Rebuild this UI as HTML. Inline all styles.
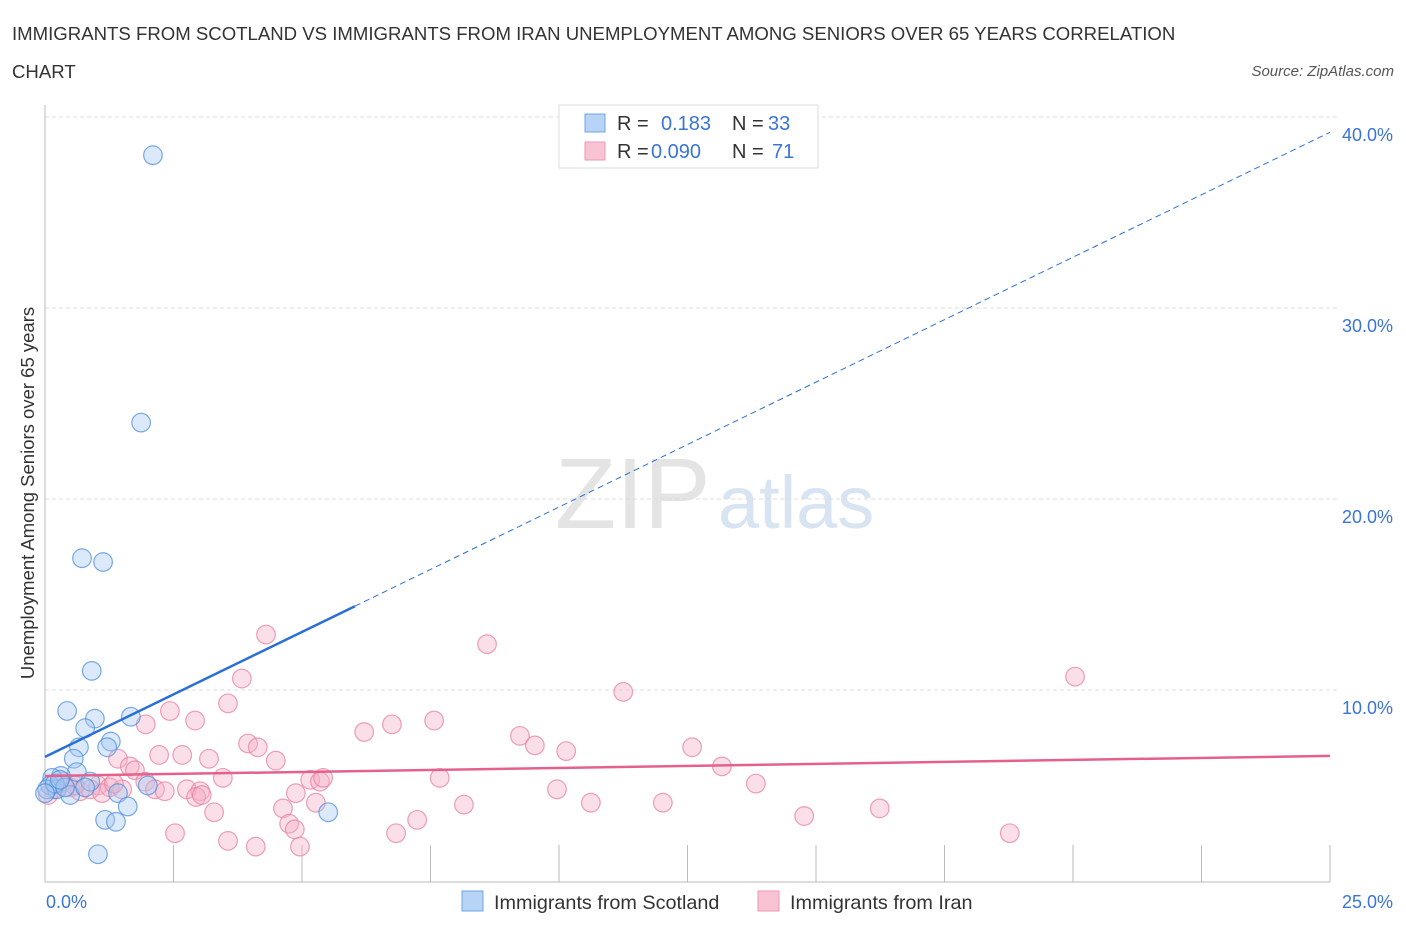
<!DOCTYPE html>
<html><head><meta charset="utf-8"><style>
body{margin:0;background:#fff;font-family:"Liberation Sans",sans-serif;}
svg text{font-family:"Liberation Sans",sans-serif;}
</style></head><body>
<svg id="chart" width="1406" height="930" xmlns="http://www.w3.org/2000/svg">
<text x="12" y="40" font-size="18.6" fill="#333">IMMIGRANTS FROM SCOTLAND VS IMMIGRANTS FROM IRAN UNEMPLOYMENT AMONG SENIORS OVER 65 YEARS CORRELATION</text>
<text x="12" y="78" font-size="18.6" fill="#333">CHART</text>
<text x="1394" y="76" font-size="15" fill="#555" text-anchor="end" font-style="italic">Source: ZipAtlas.com</text>
<text x="555" y="528" font-size="100" fill="#e4e4e4" font-family="Liberation Serif">ZIP</text>
<text x="718" y="528" font-size="74" fill="#d8e4f2">atlas</text>
<text transform="translate(34,493) rotate(-90)" font-size="18.5" fill="#333" text-anchor="middle">Unemployment Among Seniors over 65 years</text>
<g id="grid"></g><g id="marks"></g>
<g>
<rect x="559" y="105" width="259" height="63" fill="#fff" stroke="#ddd"/>
<rect x="585" y="114" width="20" height="18" fill="#b7d3f5" stroke="#6fa5e6"/>
<rect x="585" y="142" width="20" height="18" fill="#f8c4d4" stroke="#ec99b3"/>
<text x="617" y="130" font-size="20" fill="#333">R =</text><text x="661" y="130" font-size="20" fill="#3a74d6">0.183</text>
<text x="732" y="130" font-size="20" fill="#333">N =</text><text x="768" y="130" font-size="20" fill="#3a74d6">33</text>
<text x="617" y="158" font-size="20" fill="#333">R =</text><text x="651" y="158" font-size="20" fill="#3a74d6">0.090</text>
<text x="732" y="158" font-size="20" fill="#333">N =</text><text x="772" y="158" font-size="20" fill="#3a74d6">71</text>
</g>
<g>
<rect x="462" y="891" width="21" height="20" fill="#b7d3f5" stroke="#6fa5e6"/>
<text x="494" y="909" font-size="19.8" fill="#333">Immigrants from Scotland</text>
<rect x="758" y="891" width="21" height="20" fill="#f8c4d4" stroke="#ec99b3"/>
<text x="790" y="909" font-size="19.8" fill="#333">Immigrants from Iran</text>
</g>
</svg>
<script>
const xTicks=[0,2.5,5,7.5,10,12.5,15,17.5,20,22.5,25];
const yTicks=[10,20,30,40];
const yTickLabels=["10.0%","20.0%","30.0%","40.0%"];
const xEndLabels=["0.0%","25.0%"];
const scotX=[2.10,1.87,0.72,1.13,0.91,0.43,0.97,1.67,0.78,1.28,0.66,1.21,0.56,0.62,0.31,0.14,0.10,0.23,0.49,0.88,2.00,1.42,1.61,1.17,1.38,1.03,5.51,0.04,0.19,0.39,0.0,0.78,0.29];
const scotY=[38.0,24.0,16.9,16.7,11.0,8.9,8.5,8.6,8.0,7.3,7.0,7.0,6.4,5.7,5.5,5.4,5.0,4.8,4.5,5.2,5.0,4.6,3.9,3.2,3.1,1.4,3.6,4.8,5.1,4.9,4.6,4.9,5.3];
const iranX=[4.30,8.60,20.04,11.25,3.83,3.56,2.43,2.92,1.96,6.21,6.75,7.57,9.24,9.53,10.14,12.59,3.95,4.14,2.22,2.67,3.19,4.49,13.17,1.42,1.65,1.75,3.46,13.83,7.68,5.16,5.35,5.41,1.95,2.14,2.76,3.02,2.33,1.03,1.26,1.50,2.94,3.05,9.96,10.62,12.02,8.15,4.88,5.27,4.63,3.29,16.24,14.77,18.77,4.75,4.86,7.24,2.53,6.83,3.56,4.10,4.96,0.16,0.29,0.49,0.68,0.88,0.06,1.11,1.34,0.35,0.58];
const iranY=[12.9,12.4,10.7,9.9,10.6,9.3,8.9,8.4,8.2,7.8,8.2,8.4,7.6,7.1,6.8,7.0,7.2,7.0,6.6,6.6,6.4,6.3,6.0,6.4,6.0,5.8,5.4,5.1,5.4,5.3,5.2,5.4,5.2,4.8,4.8,4.7,4.7,5.0,4.9,4.8,4.4,4.5,4.8,4.1,4.1,4.0,4.6,4.1,3.8,3.6,3.8,3.4,2.5,3.0,2.7,3.2,2.5,2.5,2.1,1.8,1.8,4.8,5.1,4.9,4.7,4.8,4.5,4.6,5.1,5.2,5.0];
const scotTrend=[6.5,39.2]; const scotSolidEnd=6.03;
const iranTrend=[5.5,6.55];
const NS="http://www.w3.org/2000/svg";
const X0=45,X1=1330,Y0=881,YPX=19.1;
const sx=v=>X0+v/25*(X1-X0), sy=v=>Y0-v*YPX;
function mk(tag,attrs,parent){const e=document.createElementNS(NS,tag);for(const k in attrs)e.setAttribute(k,attrs[k]);parent.appendChild(e);return e;}
const grid=document.getElementById('grid'), marks=document.getElementById('marks');
yTicks.forEach((t,i)=>{
 const l=mk('line',{x1:X0,x2:X1+8,y1:sy(t),y2:sy(t),stroke:'#ddd','stroke-dasharray':'4,3'},grid);
 
 
 const tx=mk('text',{x:1393,y:sy(t)+24,'font-size':18,fill:'#3a74d6','text-anchor':'end'},grid);
 tx.textContent=yTickLabels[i];
 
 
});
const ax=mk('line',{x1:X0,x2:X1,y1:Y0+1,y2:Y0+1,stroke:'#bbb'},grid);


const ay=mk('line',{x1:X0,x2:X0,y1:105,y2:Y0+1,stroke:'#bbb'},grid);


xTicks.forEach(t=>{const l=mk('line',{x1:sx(t),x2:sx(t),y1:Y0-36,y2:Y0+1,stroke:'#bbb'},grid);
 
 });
[[0,'start',46],[25,'end',1393]].forEach((a,i)=>{const tx=mk('text',{x:a[2],y:908,'font-size':18,fill:'#3a74d6','text-anchor':a[1]},grid);tx.textContent=xEndLabels[i];
 
 });
function dots(xs,ys,fill,stroke,name){xs.forEach((x,i)=>{const c=mk('circle',{cx:sx(x),cy:sy(ys[i]),r:9.3,fill:fill,'fill-opacity':0.4,stroke:stroke,'stroke-opacity':0.75,'stroke-width':1.2},marks);
 
 });}
dots(iranX,iranY,'#f5b0c6','#e8809f','iran-point');
dots(scotX,scotY,'#a6c9f2','#4f8fdc','scotland-point');
const sv=x=>scotTrend[0]+(scotTrend[1]-scotTrend[0])*x/25;
const l1=mk('line',{x1:sx(0),y1:sy(sv(0)),x2:sx(scotSolidEnd),y2:sy(sv(scotSolidEnd)),stroke:'#2a6fd6','stroke-width':2.5},marks);


const l2=mk('line',{x1:sx(scotSolidEnd),y1:sy(sv(scotSolidEnd)),x2:sx(25),y2:sy(sv(25)),stroke:'#2a6fd6','stroke-width':1,'stroke-dasharray':'6,4'},marks);


const l3=mk('line',{x1:sx(0),y1:sy(iranTrend[0]),x2:sx(25),y2:sy(iranTrend[1]),stroke:'#e5608d','stroke-width':2.5},marks);


</script>
</body></html>
